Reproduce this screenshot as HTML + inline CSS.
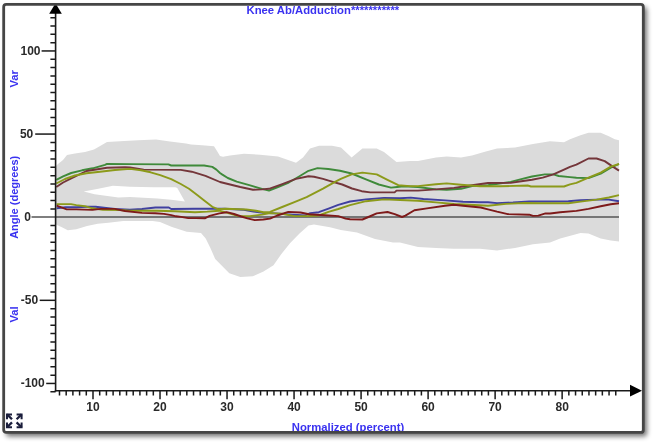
<!DOCTYPE html>
<html><head><meta charset="utf-8"><style>
html,body{margin:0;padding:0;background:#fff;width:656px;height:445px;overflow:hidden}
svg{display:block;filter:blur(0.4px)}
.tl{font:bold 12px "Liberation Sans",sans-serif;fill:#2a2a2a}
.bl{font:bold 11.3px "Liberation Sans",sans-serif;fill:#3a32f0}
</style></head><body>
<svg width="656" height="445" viewBox="0 0 656 445">
<defs><filter id="sh" x="-5%" y="-5%" width="110%" height="110%"><feGaussianBlur stdDeviation="2.8"/></filter></defs>
<rect x="6" y="7" width="641" height="429.5" rx="3" fill="#000" opacity="0.55" filter="url(#sh)"/>
<rect x="3.7" y="4.4" width="639.6" height="428" rx="2.5" fill="#fff"/>
<polygon points="56,166 58,164 63,160 67,155 75,153.5 85,152 94,149.5 101,145.5 107,142 120,141.2 138,140.3 156,139.4 170,141.5 186,143.5 191,144.6 202,145.2 214,146.2 217,151 220,156 223,156.7 230,155.6 244,153.8 260,154.7 278,156.5 296,162.8 303,157.4 310,148.4 319,145.7 332,145.7 341,147.5 351.6,157.4 362.4,148.4 376.7,148.4 384,152 396.5,161.9 410,161 418,161 436,157.4 446.7,156.5 461,157.4 472,155.6 484,152 497,148.4 515,147.5 533,143.9 550,141.2 564,142.3 570,139.3 580.5,135.2 588.5,132.8 600.7,132.8 608.8,136.2 614.8,139.3 619,140.3 619,241.6 610.8,240.6 600.7,238.6 588.5,233.5 580.5,233.1 560.2,238.6 550,242.5 533,244.3 515,247.9 497,250.6 480,248.8 454,248.8 436,247.9 418,247 400,242.5 393,242.5 375,238.9 357,232.6 340.8,230 330,227.2 314,224.5 308.5,225.4 299.5,233.5 290,243.3 281.2,254.3 273.5,265.3 263.5,271.6 252.9,276.3 240.3,277.1 229.3,273.2 221.4,265.3 215.2,259 210.4,248 205.7,238.6 201,233 186.7,231.8 172,227 160,222 152.6,221 123.3,221.1 108.4,222.7 97.7,223.8 87,226 76.3,229.2 67.8,230.2 61.4,227 57,225 56,224.5" fill="#dbdbdb"/>
<polygon points="83.7,191.5 98.3,188.7 112.9,185.8 130,186.8 153.2,187.2 175.3,187.2 177.3,188.1 184.9,201.5 171.2,199.8 157.4,198.4 130,197 118.4,197.5 107.4,196 94.6,194.2" fill="#fff"/>
<line x1="31.5" y1="216.9" x2="619" y2="216.9" stroke="#555" stroke-width="1.5"/>
<polyline points="56.6,208.3 65.7,207.3 76.3,207.3 87,206.7 95.6,206.7 104,207.8 115,209 129.8,209.6 142,209 155.4,207.5 168.8,207.5 171.2,209 195,208.8 224.3,208.8 243.8,209.8 253.5,211.6 263.3,212.8 275,213.4 290,214.5 305,215.5 310.2,213.1 318.8,212.2 328.5,208.6 338.3,204.8 350,201.5 366,199.4 384,198 400,198.2 410.8,197.6 423.4,199 445,200.4 463,201.7 480,202.3 488,202.2 497,203.1 513,202.5 529.3,201.5 550,201.5 568.3,201.2 580.5,200.2 596.6,199.6 608.8,199.6 619,201.2" fill="none" stroke="#4040a0" stroke-width="1.9" stroke-linejoin="round"/>
<polyline points="56.6,204.1 71,204.1 76.3,205.1 84.9,206.2 92.4,208.3 103,209.9 120,210 129.8,210.8 156.6,210.8 174.9,211.2 195,212.2 207.2,211.6 219.4,210.7 229.1,213.4 237.7,215.9 249.9,216.1 262,214.6 270,213.1 282.2,213.7 294.4,216.1 306.6,216.1 318.8,215.5 328.5,211.8 338.3,209 350,205.1 366,201.2 384,199.4 400,200 418,200.8 436,202.4 454,204 470,204.8 488,205.7 506,203.9 524,203 540,203.2 568.3,203.2 580.5,201.6 596.6,199.6 608.8,197.5 619,195.1" fill="none" stroke="#8c9a1a" stroke-width="1.9" stroke-linejoin="round"/>
<polyline points="56.6,205.7 61.4,207.3 66.7,209.4 76.3,209.4 92.4,209.9 100.9,208.9 114.8,208.9 125,211 142,212.9 155.4,213.2 163.9,213.9 171.2,215.1 176.1,216.3 181,216.9 188.3,218.1 195.6,218.1 204.8,218.3 209.6,215.9 219.4,213.4 226.7,212.2 234,214 241.3,216.5 247.4,218.3 254.8,220.1 263.3,219.5 270,218.6 277.3,215.5 288.3,211.9 300.5,212.5 309,214.3 328.5,215.5 338.3,216.1 345.6,218.6 350,219.2 362.4,219.5 369.6,216.5 376.7,213.4 387.5,212 394.7,214.1 402,217 405.4,215.6 414.4,210.2 427,208.4 445,205.7 454,204.8 463,205.7 480.8,207.5 488,209.3 497,211.6 507.8,214.1 529.3,214.7 533,215.9 538.3,215.6 545.5,213.4 550.1,213.5 560.2,212.3 576.4,210.9 588.5,208.9 600.7,206.2 610.8,204.2 619,203.2" fill="none" stroke="#7e1a1a" stroke-width="1.9" stroke-linejoin="round"/>
<polyline points="56.3,179.8 63.1,176.4 71.2,173 82,170.3 92.7,168.3 105,164.9 107,163.9 130,164.1 168.4,164.4 171.2,165.5 204.1,165.5 212.3,166.9 216.4,169.6 220,173 222.4,174.6 227.8,178 236.7,181.6 249.3,185.2 262,188.8 269,190.6 278,187 288.8,182.5 299.5,176.2 308.5,170.8 317.5,168.1 328.3,169 340,170.8 351.6,173.5 366.6,179.6 378.8,184.5 391,187.6 397.1,187 403.2,186.3 418,187 436,189.4 446.7,189.7 461,188.8 472,186.1 488,185.2 510.7,181.9 521.3,179.2 532,176.5 544.8,174.4 553.4,174.4 558.7,176 570,177.1 576.4,177.7 588.5,178.1 600.7,173.7 610.8,167.6 619,164" fill="none" stroke="#3f8a3a" stroke-width="1.9" stroke-linejoin="round"/>
<polyline points="56.3,187 63.1,182.5 71.2,178.4 86.5,171 107,167.8 125,167.2 130,167.5 143.7,169.6 180.8,169.9 191.7,171.7 205.5,175.8 220,182 226,183.5 240.3,187 253,189.7 262,189.4 269,188.8 281.6,184.3 296,178.9 308.5,176.2 314,176.8 323,178.9 332,181.6 342.2,184.5 352,188.5 361.7,191.2 370.2,192.4 394.6,192.4 396.5,190.6 418,190.6 436,189.4 454,187.9 472,185.2 488,183 510.7,182.9 521.3,181.3 532,179.7 542.7,177.6 553.4,174.4 564,169.6 570,166.8 576.4,164.6 588.5,158.5 596.6,158.5 604.7,161.1 612.8,166.6 619,170.6" fill="none" stroke="#74363a" stroke-width="1.9" stroke-linejoin="round"/>
<polyline points="56.3,183.5 65,179 75,175.5 86.5,173.3 100,171.8 115,170 130,168.9 141,170.3 150.6,172.3 160.2,175.1 171.2,179.2 180.8,184 189,188.7 197.2,195 205.5,201.5 212.3,206.8 217.8,209.2 225.5,208.8 246.2,209.5 256,210.7 263.3,212.2 270,211.9 282.2,207 294.4,202.1 306.6,197.2 323,188.6 335.5,181.6 340.8,178.9 351.6,174.4 362.4,172.6 376.7,174.4 387.5,179.8 398.3,185.2 410,186.1 418,186.1 436,184.3 446.7,183.4 461,184.8 480,186.3 500,186.3 527.7,185.5 531,186.5 564,186.5 570,184.3 576.4,182.8 588.5,177.7 600.7,172.6 610.8,166.6 619,164" fill="none" stroke="#8c9a1a" stroke-width="1.9" stroke-linejoin="round"/>
<line x1="55.6" y1="12" x2="55.6" y2="391.6" stroke="#1a1a1a" stroke-width="1.6"/>
<line x1="54.8" y1="390.8" x2="632" y2="390.8" stroke="#1a1a1a" stroke-width="1.6"/>
<polygon points="49.2,13.7 61.8,13.7 55.5,3.2" fill="#000"/>
<polygon points="630,384.8 630,396.6 642,390.7" fill="#000"/>
<path d="M50.4,17.70H55.6 M50.4,26.01H55.6 M50.4,34.32H55.6 M50.4,42.64H55.6 M50.4,59.26H55.6 M50.4,67.57H55.6 M50.4,75.89H55.6 M50.4,84.20H55.6 M50.4,92.51H55.6 M50.4,100.82H55.6 M50.4,109.14H55.6 M50.4,117.45H55.6 M50.4,125.76H55.6 M50.4,142.39H55.6 M50.4,150.70H55.6 M50.4,159.01H55.6 M50.4,167.32H55.6 M50.4,175.64H55.6 M50.4,183.95H55.6 M50.4,192.26H55.6 M50.4,200.57H55.6 M50.4,208.89H55.6 M50.4,225.51H55.6 M50.4,233.82H55.6 M50.4,242.14H55.6 M50.4,250.45H55.6 M50.4,258.76H55.6 M50.4,267.07H55.6 M50.4,275.39H55.6 M50.4,283.70H55.6 M50.4,292.01H55.6 M50.4,308.64H55.6 M50.4,316.95H55.6 M50.4,325.26H55.6 M50.4,333.57H55.6 M50.4,341.89H55.6 M50.4,350.20H55.6 M50.4,358.51H55.6 M50.4,366.82H55.6 M50.4,375.14H55.6 M50.4,391.76H55.6" stroke="#1a1a1a" stroke-width="1.5" fill="none"/>
<line x1="41.6" y1="50.95" x2="55.6" y2="50.95" stroke="#1a1a1a" stroke-width="1.5"/>
<text x="40.5" y="54.95" text-anchor="end" class="tl">100</text>
<line x1="35.2" y1="134.07" x2="55.6" y2="134.07" stroke="#1a1a1a" stroke-width="1.5"/>
<text x="33.3" y="138.07" text-anchor="end" class="tl">50</text>
<text x="31.0" y="221.20" text-anchor="end" class="tl">0</text>
<line x1="39.7" y1="300.32" x2="55.6" y2="300.32" stroke="#1a1a1a" stroke-width="1.5"/>
<text x="38.199999999999996" y="304.32" text-anchor="end" class="tl">-50</text>
<line x1="46.2" y1="383.45" x2="55.6" y2="383.45" stroke="#1a1a1a" stroke-width="1.5"/>
<text x="44.699999999999996" y="387.45" text-anchor="end" class="tl">-100</text>
<path d="M59.49,390.8V395.4 M66.19,390.8V395.4 M72.89,390.8V395.4 M79.60,390.8V395.4 M86.30,390.8V395.4 M93.00,390.8V399.3 M99.70,390.8V395.4 M106.40,390.8V395.4 M113.11,390.8V395.4 M119.81,390.8V395.4 M126.51,390.8V395.4 M133.21,390.8V395.4 M139.91,390.8V395.4 M146.62,390.8V395.4 M153.32,390.8V395.4 M160.02,390.8V399.3 M166.72,390.8V395.4 M173.42,390.8V395.4 M180.13,390.8V395.4 M186.83,390.8V395.4 M193.53,390.8V395.4 M200.23,390.8V395.4 M206.93,390.8V395.4 M213.64,390.8V395.4 M220.34,390.8V395.4 M227.04,390.8V399.3 M233.74,390.8V395.4 M240.44,390.8V395.4 M247.15,390.8V395.4 M253.85,390.8V395.4 M260.55,390.8V395.4 M267.25,390.8V395.4 M273.95,390.8V395.4 M280.66,390.8V395.4 M287.36,390.8V395.4 M294.06,390.8V399.3 M300.76,390.8V395.4 M307.46,390.8V395.4 M314.17,390.8V395.4 M320.87,390.8V395.4 M327.57,390.8V395.4 M334.27,390.8V395.4 M340.97,390.8V395.4 M347.68,390.8V395.4 M354.38,390.8V395.4 M361.08,390.8V399.3 M367.78,390.8V395.4 M374.48,390.8V395.4 M381.19,390.8V395.4 M387.89,390.8V395.4 M394.59,390.8V395.4 M401.29,390.8V395.4 M407.99,390.8V395.4 M414.70,390.8V395.4 M421.40,390.8V395.4 M428.10,390.8V399.3 M434.80,390.8V395.4 M441.50,390.8V395.4 M448.21,390.8V395.4 M454.91,390.8V395.4 M461.61,390.8V395.4 M468.31,390.8V395.4 M475.01,390.8V395.4 M481.72,390.8V395.4 M488.42,390.8V395.4 M495.12,390.8V399.3 M501.82,390.8V395.4 M508.52,390.8V395.4 M515.23,390.8V395.4 M521.93,390.8V395.4 M528.63,390.8V395.4 M535.33,390.8V395.4 M542.03,390.8V395.4 M548.74,390.8V395.4 M555.44,390.8V395.4 M562.14,390.8V399.3 M568.84,390.8V395.4 M575.54,390.8V395.4 M582.25,390.8V395.4 M588.95,390.8V395.4 M595.65,390.8V395.4 M602.35,390.8V395.4 M609.05,390.8V395.4 M615.76,390.8V395.4" stroke="#1a1a1a" stroke-width="1.5" fill="none"/>
<text x="93.00" y="411" text-anchor="middle" class="tl">10</text>
<text x="160.02" y="411" text-anchor="middle" class="tl">20</text>
<text x="227.04" y="411" text-anchor="middle" class="tl">30</text>
<text x="294.06" y="411" text-anchor="middle" class="tl">40</text>
<text x="361.08" y="411" text-anchor="middle" class="tl">50</text>
<text x="428.10" y="411" text-anchor="middle" class="tl">60</text>
<text x="495.12" y="411" text-anchor="middle" class="tl">70</text>
<text x="562.14" y="411" text-anchor="middle" class="tl">80</text>
<text x="246.5" y="13.6" class="bl">Knee Ab/Adduction<tspan dy="0">***********</tspan></text>
<text x="348" y="431" text-anchor="middle" class="bl">Normalized (percent)</text>
<text transform="translate(18.4,197.3) rotate(-90)" text-anchor="middle" class="bl" style="font-size:11px">Angle (degrees)</text>
<text transform="translate(18.4,78.8) rotate(-90)" text-anchor="middle" class="bl">Var</text>
<text transform="translate(18.4,314.4) rotate(-90)" text-anchor="middle" class="bl">Val</text>
<rect x="3.7" y="4.4" width="639.6" height="428" rx="2.5" fill="none" stroke="#454545" stroke-width="2.8"/>
<g><polygon points="6,413.4 12,413.4 12,415.4 8,415.4 8,419.3 6,419.3" fill="#1b1e3c"/><line x1="7" y1="414.4" x2="12" y2="419.3" stroke="#1b1e3c" stroke-width="2.3"/></g>
<g transform="translate(28.6,0) scale(-1,1)"><polygon points="6,413.4 12,413.4 12,415.4 8,415.4 8,419.3 6,419.3" fill="#1b1e3c"/><line x1="7" y1="414.4" x2="12" y2="419.3" stroke="#1b1e3c" stroke-width="2.3"/></g>
<g transform="translate(0,841.7) scale(1,-1)"><polygon points="6,413.4 12,413.4 12,415.4 8,415.4 8,419.3 6,419.3" fill="#1b1e3c"/><line x1="7" y1="414.4" x2="12" y2="419.3" stroke="#1b1e3c" stroke-width="2.3"/></g>
<g transform="translate(28.6,841.7) scale(-1,-1)"><polygon points="6,413.4 12,413.4 12,415.4 8,415.4 8,419.3 6,419.3" fill="#1b1e3c"/><line x1="7" y1="414.4" x2="12" y2="419.3" stroke="#1b1e3c" stroke-width="2.3"/></g>
</svg>
</body></html>
